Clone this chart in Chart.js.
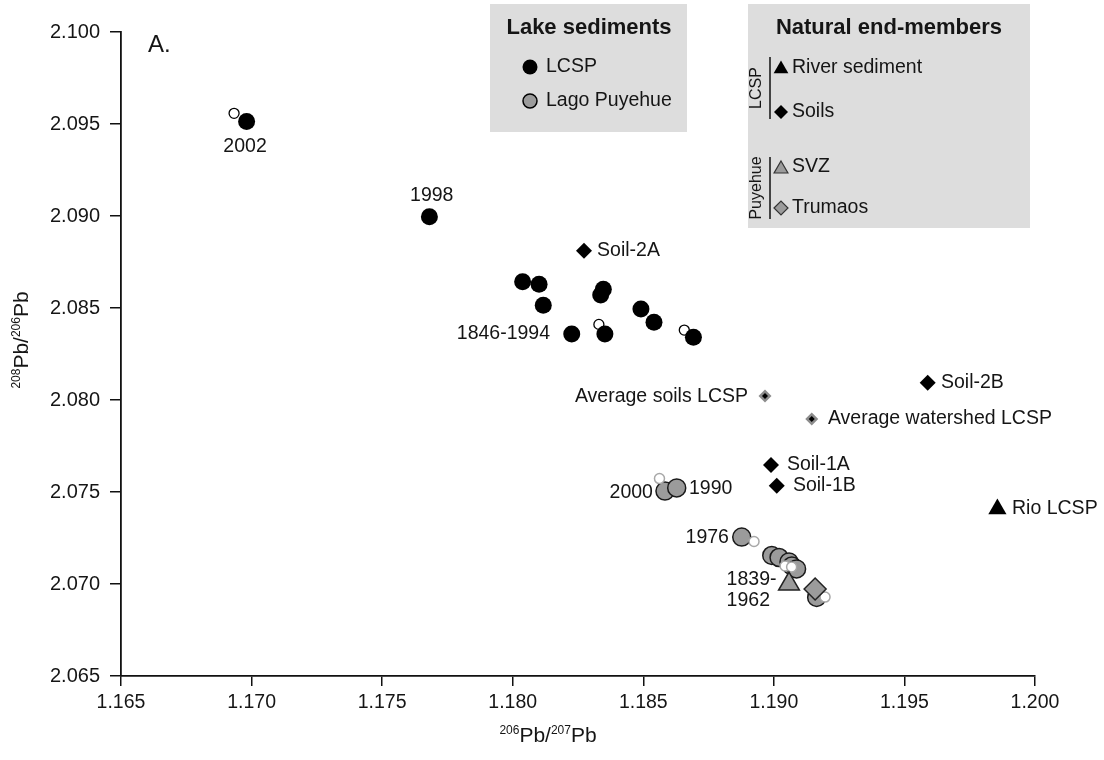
<!DOCTYPE html>
<html>
<head>
<meta charset="utf-8">
<script src="https://cdn.jsdelivr.net/npm/chart.js@4.4.1/dist/chart.umd.min.js"></script>
<style>
html,body{margin:0;padding:0;background:#fff;}
#wrap{position:relative;width:1104px;height:760px;}
</style>
</head>
<body>
<div id="wrap"><canvas id="c" width="1104" height="760"></canvas></div>
<script>
// ---------- DATA ----------
const xTickValues = [1.165, 1.170, 1.175, 1.180, 1.185, 1.190, 1.195, 1.200];
const yTickValues = [2.065, 2.070, 2.075, 2.080, 2.085, 2.090, 2.095, 2.100];

// Lake sediments – LCSP (filled black)
const lcspX = [1.16981, 1.17681, 1.18038, 1.18101, 1.18117, 1.18226, 1.18347, 1.18337, 1.18353, 1.18491, 1.18541, 1.18692];
const lcspY = [2.09513, 2.08996, 2.08643, 2.08629, 2.08515, 2.08359, 2.08602, 2.08571, 2.08359, 2.08495, 2.08422, 2.08341];
// LCSP small open circles
const lcspOpenX = [1.16933, 1.18330, 1.18657];
const lcspOpenY = [2.09558, 2.08411, 2.08380];

// Lake sediments – Lago Puyehue (grey)
const puyX = [1.18583, 1.18628, 1.18877, 1.18992, 1.19020, 1.19058, 1.19069, 1.19087, 1.19164];
const puyY = [2.07505, 2.07522, 2.07255, 2.07155, 2.07144, 2.07120, 2.07098, 2.07082, 2.06927];
// Puyehue small open circles
const puyOpenX = [1.18562, 1.18924, 1.19043, 1.19068, 1.19196];
const puyOpenY = [2.07573, 2.07231, 2.07098, 2.07092, 2.06929];

// Natural end-members
const soilsX = [1.18273, 1.19589, 1.18989, 1.19011];
const soilsY = [2.08811, 2.08094, 2.07647, 2.07534];
const avgX = [1.18966, 1.19145];
const avgY = [2.08022, 2.07897];
const riverX = [1.19856];
const riverY = [2.07408];
const svzX = [1.19058];
const svzY = [2.07000];
const trumaosX = [1.19158];
const trumaosY = [2.06973];

// Point annotations (text, anchor in data units, alignment)
const noteTexts  = ['2002', '1998', '1846-1994', 'Soil-2A', 'Average soils LCSP', 'Soil-2B', 'Average watershed LCSP', 'Soil-1A', 'Soil-1B', 'Rio LCSP', '2000', '1990', '1976', '1839-', '1962'];
const noteX      = [1.16975, 1.17690, 1.18143, 1.18323, 1.18901, 1.19640, 1.19207, 1.19050, 1.19073, 1.19912, 1.18537, 1.18675, 1.18828, 1.18819, 1.18819];
const noteY      = [2.09377, 2.09110, 2.08359, 2.08811, 2.08016, 2.08094, 2.07897, 2.07647, 2.07533, 2.07408, 2.07495, 2.07516, 2.07250, 2.07022, 2.06908];
const noteAlign  = ['center', 'center', 'right', 'left', 'right', 'left', 'left', 'left', 'left', 'left', 'right', 'left', 'right', 'left', 'left'];

// ---------- helpers ----------
function pts(xs, ys){ return xs.map((x,i)=>({x:x, y:ys[i]})); }
const FONT = '"Liberation Sans", Arial, Helvetica, sans-serif';
const INK = '#151515';
const GREY = '#9b9b9b';

function shapePath(ctx, shape, x, y, r){
  ctx.beginPath();
  if (shape === 'circle') {
    ctx.arc(x, y, r, 0, Math.PI*2);
  } else if (shape === 'triangle') {
    ctx.moveTo(x, y - r);
    ctx.lineTo(x + r*Math.sin(2*Math.PI/3), y - r*Math.cos(2*Math.PI/3));
    ctx.lineTo(x + r*Math.sin(4*Math.PI/3), y - r*Math.cos(4*Math.PI/3));
  } else if (shape === 'diamond') {
    ctx.moveTo(x - r, y); ctx.lineTo(x, y - r); ctx.lineTo(x + r, y); ctx.lineTo(x, y + r);
  }
  ctx.closePath();
}
function marker(ctx, shape, x, y, r, fill, stroke, lw){
  shapePath(ctx, shape, x, y, r);
  if (fill) { ctx.fillStyle = fill; ctx.fill(); }
  if (stroke) { ctx.strokeStyle = stroke; ctx.lineWidth = lw || 1; ctx.stroke(); }
}

// draw text with superscript segments
function drawSupText(ctx, parts, cx, cy){
  let total = 0;
  parts.forEach(p => { ctx.font = (p.sup ? '12px ' : '21px ') + FONT; p.w = ctx.measureText(p.t).width; total += p.w; });
  let x = cx - total/2;
  ctx.textBaseline = 'alphabetic';
  ctx.textAlign = 'left';
  parts.forEach(p => {
    ctx.font = (p.sup ? '12px ' : '21px ') + FONT;
    ctx.fillText(p.t, x, p.sup ? cy - 1 : cy + 7);
    x += p.w;
  });
}

const decorPlugin = {
  id: 'decor',
  afterDatasetsDraw(chart){
    const ctx = chart.ctx;
    const xs = chart.scales.x, ys = chart.scales.y;
    ctx.save();
    ctx.fillStyle = INK;
    ctx.font = '19.5px ' + FONT;
    ctx.textBaseline = 'middle';
    noteTexts.forEach((t, i) => {
      ctx.textAlign = noteAlign[i];
      ctx.fillText(t, xs.getPixelForValue(noteX[i]), ys.getPixelForValue(noteY[i]));
    });
    ctx.restore();
  },
  afterDraw(chart){
    const ctx = chart.ctx;
    const area = chart.chartArea;
    ctx.save();
    // panel label
    ctx.fillStyle = INK;
    ctx.font = '24px ' + FONT;
    ctx.textAlign = 'left'; ctx.textBaseline = 'middle';
    ctx.fillText('A.', area.left + 27, area.top + 13);

    // axis titles
    ctx.fillStyle = INK;
    drawSupText(ctx, [{t:'206',sup:true},{t:'Pb/'},{t:'207',sup:true},{t:'Pb'}], 548, 735);
    ctx.save();
    ctx.translate(27, 340);
    ctx.rotate(-Math.PI/2);
    drawSupText(ctx, [{t:'208',sup:true},{t:'Pb/'},{t:'206',sup:true},{t:'Pb'}], 0, -6);
    ctx.restore();

    // Legend 1: Lake sediments
    ctx.fillStyle = '#dddddd';
    ctx.fillRect(490, 4, 197, 128);
    ctx.fillStyle = INK;
    ctx.font = 'bold 22px ' + FONT;
    ctx.textAlign = 'center'; ctx.textBaseline = 'middle';
    ctx.fillText('Lake sediments', 589, 28);
    ctx.font = '19.5px ' + FONT;
    ctx.textAlign = 'left';
    marker(ctx, 'circle', 530, 67, 7.5, '#000', null);
    ctx.fillStyle = INK; ctx.fillText('LCSP', 546, 67);
    marker(ctx, 'circle', 530, 101, 7, GREY, '#000', 1.5);
    ctx.fillStyle = INK; ctx.fillText('Lago Puyehue', 546, 101);

    // Legend 2: Natural end-members
    ctx.fillStyle = '#dddddd';
    ctx.fillRect(748, 4, 282, 224);
    ctx.fillStyle = INK;
    ctx.font = 'bold 22px ' + FONT;
    ctx.textAlign = 'center';
    ctx.fillText('Natural end-members', 889, 28);
    ctx.font = '19.5px ' + FONT;
    ctx.textAlign = 'left';
    marker(ctx, 'triangle', 781, 69, 8.5, '#000', null);
    ctx.fillStyle = INK; ctx.fillText('River sediment', 792, 68);
    marker(ctx, 'diamond', 781, 112, 7, '#000', null);
    ctx.fillStyle = INK; ctx.fillText('Soils', 792, 112);
    marker(ctx, 'triangle', 781, 169, 8, GREY, '#333', 1.2);
    ctx.fillStyle = INK; ctx.fillText('SVZ', 792, 167);
    marker(ctx, 'diamond', 781, 208, 7, GREY, '#333', 1.2);
    ctx.fillStyle = INK; ctx.fillText('Trumaos', 792, 208);
    // brackets
    ctx.strokeStyle = '#111'; ctx.lineWidth = 1.5;
    ctx.beginPath(); ctx.moveTo(770, 57); ctx.lineTo(770, 119); ctx.stroke();
    ctx.beginPath(); ctx.moveTo(770, 157); ctx.lineTo(770, 219); ctx.stroke();
    ctx.font = '16px ' + FONT;
    ctx.fillStyle = INK;
    ctx.textAlign = 'center'; ctx.textBaseline = 'middle';
    ctx.save(); ctx.translate(757, 88); ctx.rotate(-Math.PI/2); ctx.fillText('LCSP', 0, 0); ctx.restore();
    ctx.save(); ctx.translate(757, 188); ctx.rotate(-Math.PI/2); ctx.fillText('Puyehue', 0, 0); ctx.restore();

    ctx.restore();
  }
};

const datasets = [
  { label: 'Average (inner)', data: pts(avgX, avgY), pointStyle: 'rectRot', pointRadius: 3, backgroundColor: '#000', borderWidth: 0, order: 1 },
  { label: 'Average', data: pts(avgX, avgY), pointStyle: 'rectRot', pointRadius: 6.5, backgroundColor: '#8c8c8c', borderWidth: 0, order: 2 },
  { label: 'Soils', data: pts(soilsX, soilsY), pointStyle: 'rectRot', pointRadius: 8, backgroundColor: '#000', borderWidth: 0, order: 3 },
  { label: 'River sediment', data: pts(riverX, riverY), pointStyle: 'triangle', pointRadius: 10.5, backgroundColor: '#000', borderWidth: 0, order: 4 },
  { label: 'Trumaos', data: pts(trumaosX, trumaosY), pointStyle: 'rectRot', pointRadius: 11, backgroundColor: GREY, borderColor: '#222', borderWidth: 1.5, order: 5 },
  { label: 'SVZ', data: pts(svzX, svzY), pointStyle: 'triangle', pointRadius: 12, backgroundColor: GREY, borderColor: '#222', borderWidth: 1.5, order: 6 },
  { label: 'Lago Puyehue (open)', data: pts(puyOpenX, puyOpenY), pointStyle: 'circle', pointRadius: 5, backgroundColor: '#fff', borderColor: '#a8a8a8', borderWidth: 1.5, order: 7 },
  { label: 'Lago Puyehue', data: pts(puyX, puyY), pointStyle: 'circle', pointRadius: 9, backgroundColor: GREY, borderColor: '#1a1a1a', borderWidth: 1.5, order: 8 },
  { label: 'LCSP', data: pts(lcspX, lcspY), pointStyle: 'circle', pointRadius: 8.5, backgroundColor: '#000', borderWidth: 0, order: 9 },
  { label: 'LCSP (open)', data: pts(lcspOpenX, lcspOpenY), pointStyle: 'circle', pointRadius: 5, backgroundColor: '#fff', borderColor: '#000', borderWidth: 1.3, order: 10 }
];

new Chart(document.getElementById('c'), {
  type: 'scatter',
  data: { datasets: datasets },
  options: {
    responsive: false,
    animation: false,
    events: [],
    layout: { padding: { top: 32, right: 69, left: 0, bottom: 0 } },
    plugins: { legend: { display: false }, tooltip: { enabled: false }, title: { display: false } },
    elements: { point: { hoverRadius: 0 } },
    scales: {
      x: {
        type: 'linear',
        min: xTickValues[0], max: xTickValues[xTickValues.length - 1],
        afterBuildTicks: s => { s.ticks = xTickValues.map(v => ({ value: v })); },
        afterFit: s => { s.height = 84; },
        grid: { display: true, drawOnChartArea: false, drawTicks: true, tickLength: 10, color: '#111', lineWidth: 1.5 },
        border: { display: true, color: '#111', width: 1.8 },
        ticks: { color: INK, font: { family: FONT, size: 19.5 }, padding: 5, maxRotation: 0, autoSkip: false,
                 callback: v => Number(v).toFixed(3) }
      },
      y: {
        type: 'linear',
        min: yTickValues[0], max: yTickValues[yTickValues.length - 1],
        afterBuildTicks: s => { s.ticks = yTickValues.map(v => ({ value: v })); },
        afterFit: s => { s.width = 121; },
        grid: { display: true, drawOnChartArea: false, drawTicks: true, tickLength: 11, color: '#111', lineWidth: 1.5 },
        border: { display: true, color: '#111', width: 1.8 },
        ticks: { color: INK, font: { family: FONT, size: 20 }, padding: 10, autoSkip: false,
                 callback: v => Number(v).toFixed(3) }
      }
    }
  },
  plugins: [decorPlugin]
});
</script>
</body>
</html>
